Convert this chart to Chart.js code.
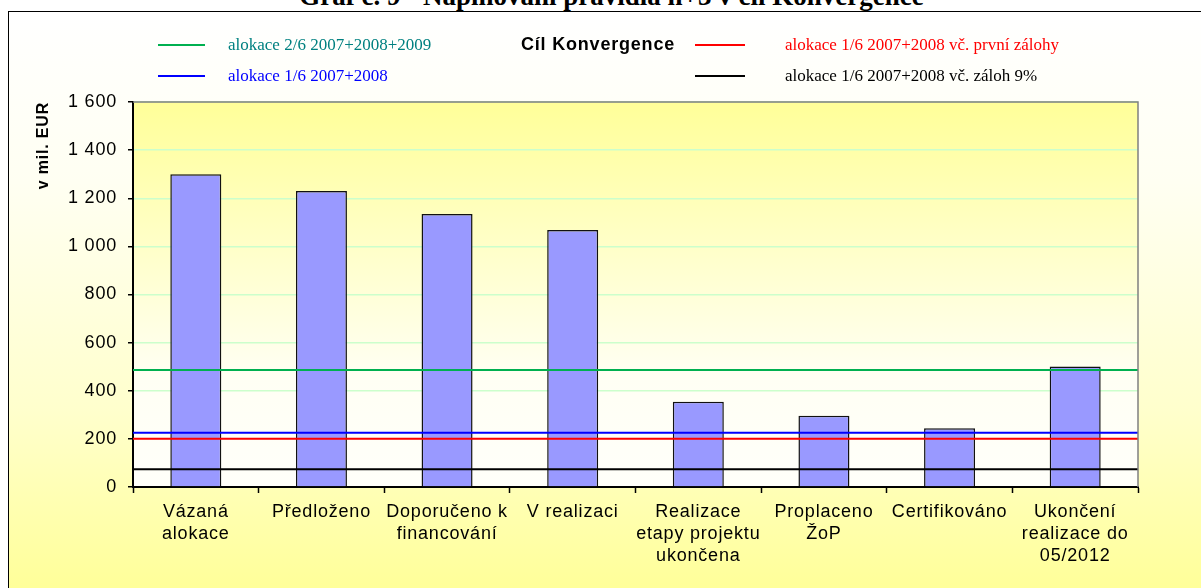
<!DOCTYPE html>
<html>
<head>
<meta charset="utf-8">
<script src="https://cdn.jsdelivr.net/npm/chart.js@4.4.1/dist/chart.umd.min.js"></script>
<style>
  html, body { margin: 0; padding: 0; width: 1201px; height: 588px; overflow: hidden; background: #fff; }
  #title { position: absolute; left: 11px; top: -19px; width: 1201px; text-align: center; white-space: nowrap;
           font: bold 27px "Liberation Serif", serif; line-height: 30px; color: #000; }
  #frame { position: absolute; left: 8px; top: 11px; width: 1300px; height: 700px; border: 1px solid #000;
           background: linear-gradient(to bottom, #ffffff 0px, #fffff2 170px, #ffffcc 400px, #ffff99 576px); }
  #wrap { position: absolute; left: 0; top: 0; width: 1201px; height: 588px; }
  .legText { position: absolute; white-space: nowrap; font: 17px "Liberation Serif", serif; line-height: 20px; }
  .legLine { position: absolute; height: 2px; }
  #legTitle { position: absolute; left: 521px; top: 34px; white-space: nowrap; letter-spacing: 0.8px;
              font: bold 18px "Liberation Sans", Arial, sans-serif; line-height: 20px; }
</style>
</head>
<body>
<div id="title">Graf č. 9 - Naplňování pravidla n+3 v cíl Konvergence</div>
<div id="frame"></div>
<div id="wrap"><canvas id="chart"></canvas></div>
<div id="legTitle">Cíl Konvergence</div>
<div id="legend"></div>
<script>
// ── Data ──
const categories = [
  ['Vázaná', 'alokace'],
  ['Předloženo'],
  ['Doporučeno k', 'financování'],
  ['V realizaci'],
  ['Realizace', 'etapy projektu', 'ukončena'],
  ['Proplaceno', 'ŽoP'],
  ['Certifikováno'],
  ['Ukončení', 'realizace do', '05/2012']
];
const barValues = [1300, 1230, 1135, 1068, 354, 296, 244, 501];

const limitLabels = [
  'alokace 2/6 2007+2008+2009',
  'alokace 1/6 2007+2008',
  'alokace 1/6 2007+2008 vč. první zálohy',
  'alokace 1/6 2007+2008 vč. záloh 9%'
];
const limitValues = [486, 225, 201, 74];
const limitColors = ['#00b050', '#0000ff', '#ff0000', '#000000'];
const limitTextColors = ['#008080', '#0000ff', '#ff0000', '#000000'];

const yMin = 0, yMax = 1600, yStep = 200;

// ── Legend (HTML) ──
const legPos = [
  { line: 158, lineW: 47, text: 228, y: 45 },
  { line: 158, lineW: 47, text: 228, y: 76 },
  { line: 695, lineW: 50, text: 785, y: 45 },
  { line: 695, lineW: 50, text: 785, y: 76 }
];
const legEl = document.getElementById('legend');
legEl.innerHTML = limitLabels.map((lab, i) => {
  const p = legPos[i];
  return `<div class="legLine" style="left:${p.line}px;top:${p.y - 1}px;width:${p.lineW}px;background:${limitColors[i]}"></div>` +
         `<div class="legText" style="left:${p.text}px;top:${p.y - 10}px;color:${limitTextColors[i]}">${lab}</div>`;
}).join('');

// ── Plugins ──
const plotBg = {
  id: 'plotBg',
  beforeDraw(chart) {
    const { ctx, chartArea: a } = chart;
    ctx.letterSpacing = '0.8px';
    const g = ctx.createLinearGradient(0, a.top, 0, a.bottom);
    g.addColorStop(0, '#ffff99');
    g.addColorStop(0.72, '#fffff4');
    g.addColorStop(1, '#fffffa');
    ctx.save();
    ctx.fillStyle = g;
    ctx.fillRect(a.left, a.top, a.right - a.left, a.bottom - a.top);
    ctx.restore();
  },
  afterDraw(chart) {
    const { ctx, chartArea: a } = chart;
    ctx.save();
    ctx.strokeStyle = '#808080';
    ctx.lineWidth = 1.5;
    ctx.beginPath();
    ctx.moveTo(a.left, a.top);
    ctx.lineTo(a.right, a.top);
    ctx.lineTo(a.right, a.bottom);
    ctx.stroke();
    ctx.restore();
  }
};

const fmt = v => String(v).replace(/\B(?=(\d{3})+(?!\d))/g, ' ');
const axisFont = { family: '"Liberation Sans", Arial, sans-serif', size: 18, lineHeight: 1.22 };

const datasets = [{
  type: 'bar',
  data: barValues,
  backgroundColor: '#9999ff',
  borderColor: '#111',
  borderWidth: 1.5,
  barPercentage: 0.406,
  categoryPercentage: 1,
  grouped: false,
  order: 10
}];
limitValues.forEach((v, i) => {
  datasets.push({
    type: 'line',
    label: limitLabels[i],
    xAxisID: 'x2',
    data: [{ x: 0, y: v }, { x: 1, y: v }],
    borderColor: limitColors[i],
    borderWidth: 2,
    pointRadius: 0,
    fill: false,
    order: i
  });
});

new Chart(document.getElementById('chart').getContext('2d'), {
  data: { labels: categories, datasets },
  options: {
    responsive: true, maintainAspectRatio: false,
    animation: false,
    layout: { padding: { left: 0, top: 102, right: 63, bottom: 0 } },
    plugins: { legend: { display: false }, tooltip: { enabled: false } },
    scales: {
      x: {
        type: 'category',
        offset: true,
        grid: { offset: true, drawOnChartArea: false, tickLength: 6, tickColor: '#000', tickWidth: 1.5 },
        border: { color: '#000', width: 2 },
        ticks: { color: '#000', font: axisFont, padding: 8, maxRotation: 0, autoSkip: false },
        afterFit: s => { s.height = 101; }
      },
      x2: { type: 'linear', min: 0, max: 1, display: false },
      y: {
        min: yMin, max: yMax,
        ticks: { stepSize: yStep, padding: 11, color: '#000', font: axisFont, callback: v => fmt(v) },
        grid: { color: '#ccffcc', lineWidth: 1.5, tickColor: '#000', tickLength: 5 },
        border: { color: '#000', width: 2 },
        title: {
          display: true, text: 'v mil. EUR', align: 'end', color: '#000',
          font: { family: '"Liberation Sans", Arial, sans-serif', size: 16, weight: 'bold' },
          padding: { top: 34 }
        },
        afterFit: s => { s.width = 133; }
      }
    }
  },
  plugins: [plotBg]
});
</script>
</body>
</html>
